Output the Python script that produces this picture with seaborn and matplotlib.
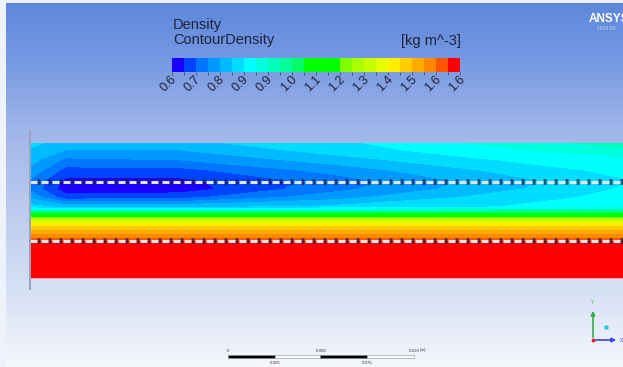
import numpy as np
import pandas as pd
import matplotlib
matplotlib.use("Agg")
import matplotlib.pyplot as plt
from matplotlib.colors import ListedColormap, LinearSegmentedColormap
from matplotlib.patches import Rectangle
from matplotlib.transforms import ScaledTranslation
import seaborn as sns

# === Data ===
# normalised channel height, 0 = bottom wall, 1 = top wall
height = [0.00, 0.25, 0.29, 0.33, 0.37, 0.41, 0.45, 0.47, 0.49,
          0.51, 0.53, 0.60, 0.66, 0.72, 0.80, 0.88, 0.95, 1.00]
# streamwise stations (fraction of the visible length)
x_station = [0.0, 0.06, 0.25, 0.50, 0.75, 1.0]

# density [kg m^-3], lower layer is the same along the channel
rho_lower = [1.62, 1.62, 1.56, 1.49, 1.44, 1.38, 1.24, 1.12, 1.03]
# upper layer, bottom -> top, one list per station
rho_up_x000 = [0.90, 0.83, 0.76, 0.72, 0.72, 0.76, 0.79, 0.81, 0.82]
rho_up_x006 = [0.90, 0.80, 0.66, 0.62, 0.63, 0.67, 0.72, 0.77, 0.80]
rho_up_x025 = [0.90, 0.80, 0.67, 0.62, 0.63, 0.67, 0.73, 0.77, 0.80]
rho_up_x050 = [0.91, 0.82, 0.75, 0.71, 0.70, 0.74, 0.79, 0.83, 0.84]
rho_up_x075 = [0.93, 0.85, 0.82, 0.79, 0.78, 0.81, 0.85, 0.88, 0.90]
rho_up_x100 = [0.96, 0.88, 0.87, 0.86, 0.85, 0.87, 0.89, 0.93, 0.96]

# legend scale
rho_min, rho_max = 0.60, 1.62
band_colors = ['#1c00ff', '#0044ff', '#0077ff', '#0099ff', '#00bbff', '#00ddff',
               '#00ffff', '#00ffdd', '#00ffbb', '#00ff99', '#00ff66', '#00ff00',
               '#00ff00', '#00ff00', '#80ff00', '#aaff00', '#c8ff00', '#e6ff00',
               '#ffee00', '#ffcc00', '#ffaa00', '#ff8800', '#ff5500', '#ff0000']
tick_labels = ["0.6", "0.7", "0.8", "0.9", "0.9", "1.0", "1.1",
               "1.2", "1.3", "1.4", "1.5", "1.6", "1.6"]

# membrane (dashed) lines, normalised height
membrane_h = [0.28, 0.71]

# === Build field ===
uppers = [rho_up_x000, rho_up_x006, rho_up_x025, rho_up_x050, rho_up_x075, rho_up_x100]
field = pd.DataFrame({x: rho_lower + up for x, up in zip(x_station, uppers)}, index=height)
X, Y = np.meshgrid(field.columns.values, field.index.values)
Z = field.values

sns.set_theme(style="white")
plt.rcParams['font.family'] = ['Liberation Sans', 'DejaVu Sans']
plt.rcParams['lines.scale_dashes'] = False

W, H = 623, 367
fig = plt.figure(figsize=(W / 100, H / 100), dpi=100)
PX = 0.72  # points per pixel

# --- background gradient ---
bg = fig.add_axes([0, 0, 1, 1], zorder=0)
grad = LinearSegmentedColormap.from_list(
    "bg", [(0, '#5c86dc'), (0.16, '#7598e1'), (0.35, '#a0b5e9'),
           (0.8, '#d8e2f5'), (1.0, '#f5f7fd')])
bg.imshow(np.linspace(0, 1, 256)[:, None], aspect='auto', cmap=grad,
          extent=(0, W, H, 0))
bg.add_patch(Rectangle((0, 0), 6, H, color='#eef2fb', lw=0))
bg.add_patch(Rectangle((0, 0), W, 3, color='#eef2fb', lw=0))
bg.set_xlim(0, W); bg.set_ylim(H, 0)
bg.axis('off')

# --- contour domain ---
x0, x1, y0, y1 = 30, 623, 143, 279
ax = fig.add_axes([x0 / W, (H - y1) / H, (x1 - x0) / W, (y1 - y0) / H], zorder=1)
levels = np.linspace(rho_min, rho_max, len(band_colors) + 1)
ax.contourf(X, Y, Z, levels=levels, colors=band_colors)
ax.axhline(0, color='#ff9a9a', lw=1.5)
for h in membrane_h:
    ax.axhline(h, color='#1a2040', alpha=0.7, lw=6 * PX,
               linestyle=(3.5 * PX, (3 * PX, 8 * PX)))
    ax.axhline(h, color='#e2e4ee', lw=3 * PX,
               linestyle=(0, (7 * PX, 4 * PX)))
ax.set_xlim(0, 1); ax.set_ylim(0, 1)
ax.axis('off')

# --- legend colour bar (seaborn heatmap) ---
cb_x0, cb_x1, cb_y0, cb_y1 = 172, 460, 58, 72
cb = fig.add_axes([cb_x0 / W, (H - cb_y1) / H, (cb_x1 - cb_x0) / W, (cb_y1 - cb_y0) / H], zorder=1)
band_mid = (levels[:-1] + levels[1:]) / 2
sns.heatmap(np.array([band_mid]), ax=cb, cmap=ListedColormap(band_colors),
            vmin=rho_min, vmax=rho_max, cbar=False,
            xticklabels=False, yticklabels=False)
cb.set_xticks(np.arange(len(band_colors) + 1))
cb.tick_params(axis='x', length=2, width=0.6, color='#404660', bottom=True, pad=0)
txt = '#1f2238'
off = ScaledTranslation(3 / 100, -6 / 100, fig.dpi_scale_trans)
for i, lab in enumerate(tick_labels):
    cb.text(2 * i, 1.0, lab, transform=cb.transData + off, rotation=45,
            rotation_mode='anchor', ha='right', va='center', fontsize=9, color=txt)

# --- overlay: titles, scale bar, triad ---
ov = fig.add_axes([0, 0, 1, 1], zorder=2)
ov.set_xlim(0, W); ov.set_ylim(H, 0)
ov.axis('off')
ov.patch.set_alpha(0)

ov.text(173, 25, "Density", fontsize=10.5, color=txt, va='center', ha='left')
ov.text(173, 40, "ContourDensity", fontsize=10.5, color=txt, va='center', ha='left')
ov.text(461, 41, "[kg m^-3]", fontsize=10.5, color=txt, va='center', ha='right')

ov.text(589, 19, "ANSYS", fontsize=8.5, fontweight='bold', color='white', va='center', ha='left')
ov.text(597, 29, "2019 R3", fontsize=3.5, color='#c8d4f4', va='center', ha='left')

# left wall
ov.plot([30, 30], [130, 290], color='#98a2c0', lw=2 * PX, solid_capstyle='butt')

# scale bar
seg = [(228, 'black'), (275, 'white'), (320, 'black'), (367, 'white')]
for sx, c in seg:
    ov.add_patch(Rectangle((sx, 354.5), 47, 3, facecolor=c, edgecolor='#8a8a8a', lw=0.4))
for sx, lab in [(228, "0"), (321, "0.050"), (414, "0.100")]:
    ov.text(sx, 350.5, lab, fontsize=3.2, color='#333333', ha='center', va='center')
ov.text(420, 350.5, "(m)", fontsize=3.2, color='#333333', ha='left', va='center')
for sx, lab in [(275, "0.025"), (367, "0.075")]:
    ov.text(sx, 362.5, lab, fontsize=3.2, color='#333333', ha='center', va='center')

# axis triad
ov.annotate('', xy=(593, 308), xytext=(593, 340),
            arrowprops=dict(arrowstyle='-|>', color='#2fae45', lw=1.2, mutation_scale=6))
ov.annotate('', xy=(619, 340), xytext=(593, 340),
            arrowprops=dict(arrowstyle='-|>', color='#3a3fe0', lw=1.2, mutation_scale=6))
ov.text(593, 303, "Y", fontsize=3.5, color='#2fae45', ha='center', va='center')
ov.text(622, 340, "X", fontsize=3.5, color='#3a3fe0', ha='center', va='center')
ov.plot(606, 327, 'o', color='#22c8dc', ms=3.2, mec='none')
ov.plot(593, 340, 'o', color='#e02020', ms=2.8, mec='none')

fig.savefig("out.png", dpi=100)
